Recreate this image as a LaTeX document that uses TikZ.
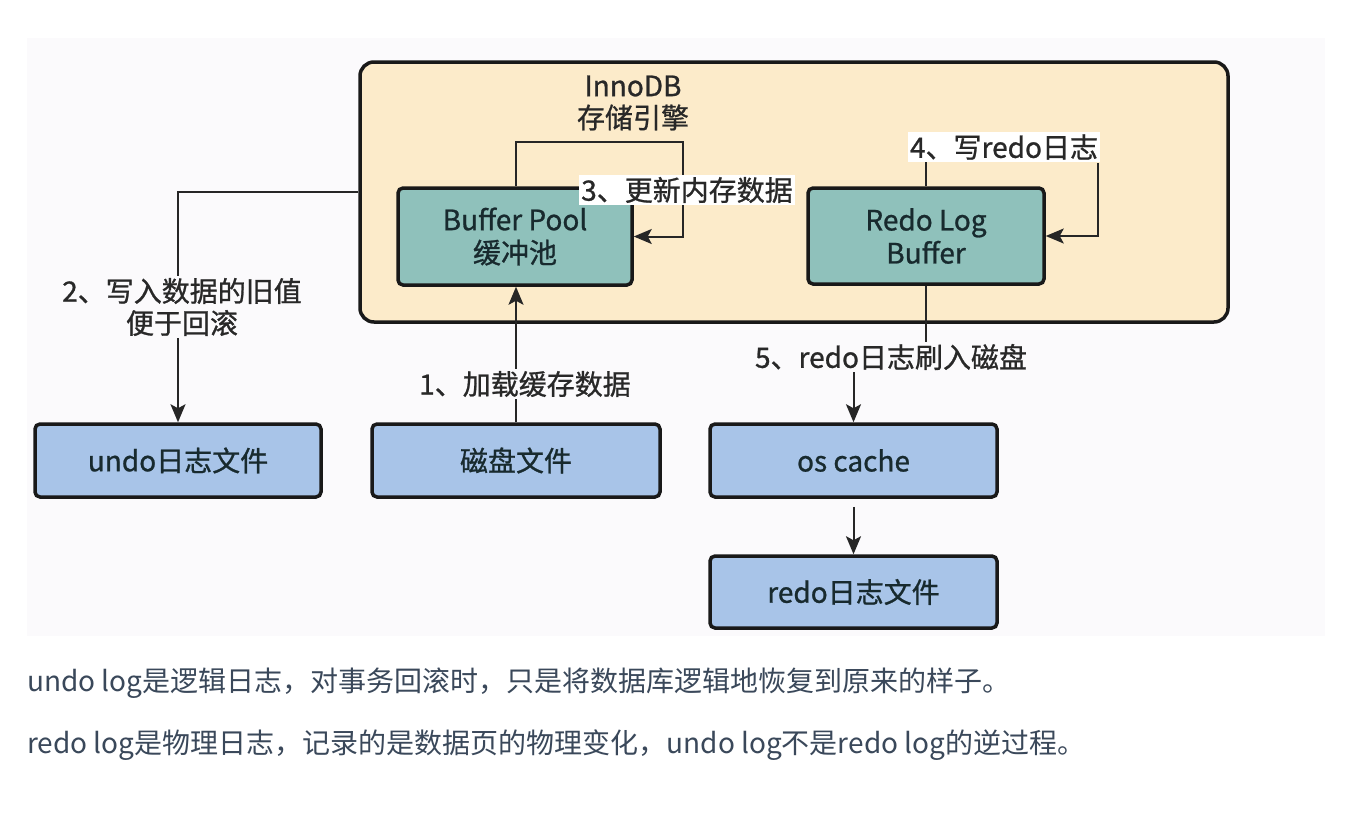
\documentclass[tikz,border=0pt]{standalone}
\usepackage{fontspec}
\setmainfont{Noto Sans CJK SC}
\newfontfamily\dfont[FakeBold=0.9]{Noto Sans CJK SC}
\usetikzlibrary{arrows.meta,calc}
\definecolor{bgcol}{RGB}{251,250,252}
\definecolor{peach}{RGB}{252,235,202}
\definecolor{teal}{RGB}{143,193,187}
\definecolor{bluebox}{RGB}{168,196,232}
\definecolor{lblcol}{RGB}{40,40,40}
\definecolor{boxtxt}{RGB}{24,42,46}
\definecolor{bodytxt}{RGB}{58,72,90}
\tikzset{
  lbl/.style={font=\dfont\fontsize{28}{32}\selectfont, text=lblcol, align=center, inner sep=2pt},
  tbox/.style={draw=black!90, line width=3.5pt, rounded corners=5pt, fill=teal, align=center,
     text=boxtxt, font=\dfont\fontsize{28}{33}\selectfont, inner sep=0pt},
  bbox/.style={draw=black!90, line width=3.5pt, rounded corners=5pt, fill=bluebox, align=center,
     text=boxtxt, font=\dfont\fontsize{28}{33}\selectfont, inner sep=0pt, minimum height=73pt},
  ln/.style={draw=black!85, line width=2pt},
  arr/.style={ln, -{Stealth[length=18pt,width=15pt,inset=4pt]}},
  body/.style={anchor=west, font=\fontsize{28}{32}\selectfont, text=bodytxt, inner sep=0pt}
}
\begin{document}
\begin{tikzpicture}[x=1pt,y=-1pt]
\useasboundingbox (0,0) rectangle (1346,817);
\fill[white] (0,0) rectangle (1346,817);
\node[fill=bgcol, minimum width=1298pt, minimum height=598pt, inner sep=0pt] (bg) at (676,337) {};
% InnoDB container
\node[draw=black!90, line width=3.5pt, rounded corners=14pt, fill=peach,
      minimum width=868pt, minimum height=260pt, inner sep=0pt] (innodb) at (794,192) {};
\node[lbl] (title) at (633,103) {InnoDB\\存储引擎};
% inner boxes
\node[tbox, minimum width=234pt, minimum height=97pt] (bp) at (515,236.5) {Buffer Pool\\缓冲池};
\node[tbox, minimum width=236pt, minimum height=96pt] (rlb) at (926,236) {Redo Log\\Buffer};
% bottom boxes
\node[bbox, minimum width=286pt] (undo) at (178,460.5) {undo日志文件};
\node[bbox, minimum width=288pt] (disk) at (516,460.5) {磁盘文件};
\node[bbox, minimum width=287pt] (os) at (853.5,460.5) {os cache};
\node[bbox, minimum width=287pt, minimum height=72pt] (redof) at (853.5,592) {redo日志文件};
% loop 3
\coordinate (c3a) at (516,142);
\coordinate (c3b) at (683,142);
\draw[arr] (bp.north -| c3a) -- (c3a) -- (c3b) |- (bp.east);
\node[lbl, fill=white] (l3) at (687,190) {3、更新内存数据};
% loop 4
\node[lbl, fill=white] (l4) at (1004,147) {4、写redo日志};
\coordinate (c4) at (1098,163);
\draw[ln] (rlb.north) -- (rlb.north |- l4.south);
\draw[arr] (c4) |- (rlb.east);
% 2
\draw[arr] (innodb.west) -| (undo.north);
\node[lbl, fill=bgcol] (l2) at (182,307) {2、写入数据的旧值\\便于回滚};
% 1
\draw[arr] (disk.north) -- (disk.north |- bp.south);
\node[lbl, fill=bgcol] (l1) at (525,384) {1、加载缓存数据};
% 5
\node[lbl] (l5) at (891,357) {5、redo日志刷入磁盘};
\draw[ln] (rlb.south) -- (rlb.south |- l5.north);
\draw[arr] (l5.south -| os.north) -- (os.north);
\draw[arr, shorten <=8pt] (os.south) -- (redof.north);
% body text
\node[body] (t1) at (27,683) {undo log是逻辑日志，对事务回滚时，只是将数据库逻辑地恢复到原来的样子。};
\node[body] (t2) at (27,745) {redo log是物理日志，记录的是数据页的物理变化，undo log不是redo log的逆过程。};
\end{tikzpicture}
\end{document}
